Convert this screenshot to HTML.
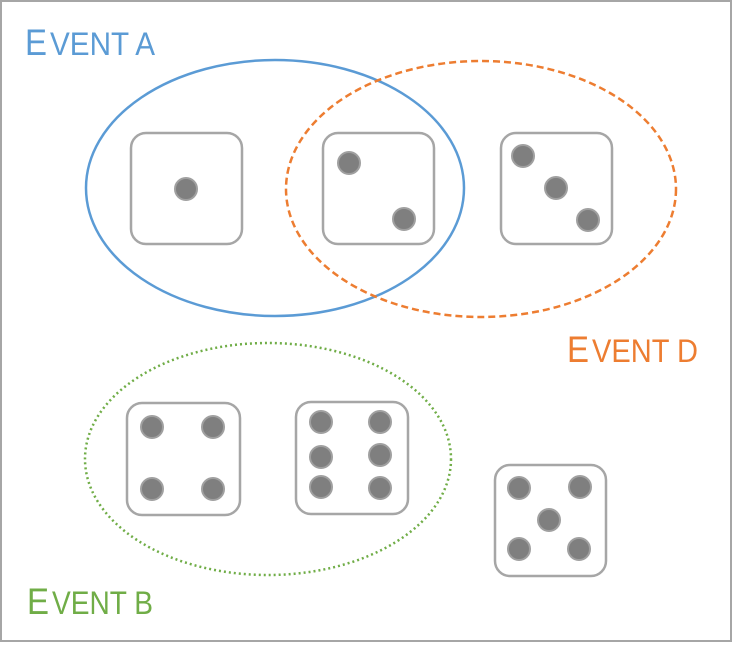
<!DOCTYPE html>
<html><head><style>html,body{margin:0;padding:0;background:#fff}svg{display:block}</style></head><body>
<svg width="732" height="646" viewBox="0 0 732 646" xmlns="http://www.w3.org/2000/svg">
<rect x="1" y="1" width="730" height="640" fill="#fff" stroke="#a6a6a6" stroke-width="2"/>
<g font-family="Liberation Sans, sans-serif">
<text x="25" y="55" fill="#5b9bd5" font-size="37" textLength="22" lengthAdjust="spacingAndGlyphs">E</text>
<text x="50" y="55" fill="#5b9bd5" font-size="32" textLength="105" lengthAdjust="spacingAndGlyphs">VENT A</text>
<text x="567" y="362" fill="#ed7d31" font-size="37" textLength="22" lengthAdjust="spacingAndGlyphs">E</text>
<text x="592" y="362" fill="#ed7d31" font-size="32" textLength="106" lengthAdjust="spacingAndGlyphs">VENT D</text>
<text x="27" y="614" fill="#70ad47" font-size="37" textLength="22" lengthAdjust="spacingAndGlyphs">E</text>
<text x="52" y="614" fill="#70ad47" font-size="32" textLength="101" lengthAdjust="spacingAndGlyphs">VENT B</text>
</g>
<ellipse cx="275" cy="188" rx="189" ry="128" fill="none" stroke="#5b9bd5" stroke-width="2.5"/>
<ellipse cx="481" cy="189" rx="195" ry="128" fill="none" stroke="#ed7d31" stroke-width="2.5" stroke-dasharray="7 4"/>
<ellipse cx="268" cy="459" rx="183" ry="116" fill="none" stroke="#70ad47" stroke-width="2.5" stroke-dasharray="2 3"/>
<g fill="#fff" stroke="#a6a6a6" stroke-width="2.5">
<rect x="131" y="133" width="111" height="111" rx="15"/>
<rect x="323" y="133" width="111" height="111" rx="15"/>
<rect x="501" y="133" width="111" height="111" rx="15"/>
<rect x="127" y="403" width="113" height="112" rx="15"/>
<rect x="296" y="402" width="112" height="112" rx="15"/>
<rect x="495" y="465" width="111" height="111" rx="15"/>
</g>
<g fill="#7f7f7f" stroke="#a0a0a0" stroke-width="2">
<circle cx="186" cy="189" r="11"/>
<circle cx="349" cy="163" r="11"/><circle cx="404" cy="219" r="11"/>
<circle cx="523" cy="156" r="11"/><circle cx="556" cy="188" r="11"/><circle cx="588" cy="220" r="11"/>
<circle cx="152" cy="427" r="11"/><circle cx="213" cy="427" r="11"/><circle cx="152" cy="489" r="11"/><circle cx="213" cy="489" r="11"/>
<circle cx="321" cy="422" r="11"/><circle cx="380" cy="422" r="11"/><circle cx="321" cy="457" r="11"/><circle cx="380" cy="455" r="11"/><circle cx="321" cy="487" r="11"/><circle cx="380" cy="488" r="11"/>
<circle cx="519" cy="488" r="11"/><circle cx="580" cy="487" r="11"/><circle cx="549" cy="520" r="11"/><circle cx="519" cy="549" r="11"/><circle cx="579" cy="549" r="11"/>
</g>
</svg>
</body></html>
